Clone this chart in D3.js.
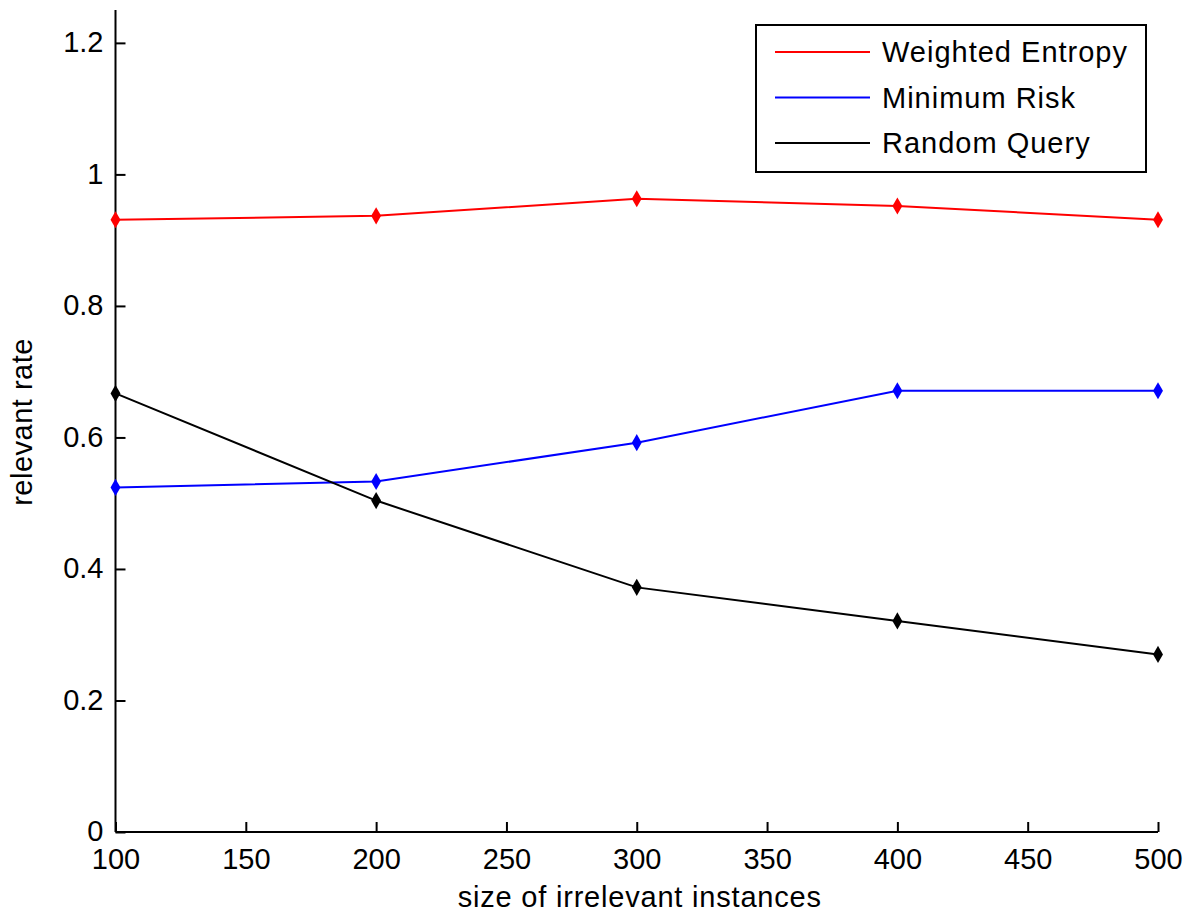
<!DOCTYPE html>
<html>
<head>
<meta charset="utf-8">
<script src="https://cdn.jsdelivr.net/npm/d3@7"></script>
<style>
  body { margin: 0; background: #fff; }
  text { font-family: "Liberation Sans", Arial, sans-serif; fill: #000; }
</style>
</head>
<body>
<div id="chart"></div>
<script>
// values
var sizes = [100, 200, 300, 400, 500];
var weightedEntropy = [0.931, 0.937, 0.963, 0.952, 0.931];
var minimumRisk = [0.524, 0.533, 0.592, 0.671, 0.671];
var randomQuery = [0.667, 0.504, 0.372, 0.321, 0.270];
var seriesNames = ["Weighted Entropy", "Minimum Risk", "Random Query"];
var seriesColors = ["#ff0000", "#0000ff", "#000000"];
var xTicks = [100, 150, 200, 250, 300, 350, 400, 450, 500];
var yTicks = [0, 0.2, 0.4, 0.6, 0.8, 1, 1.2];

var W = 1185, H = 913;
var margin = {top: 10, right: 27, bottom: 81, left: 115.5},
    width = W - margin.left - margin.right,
    height = H - margin.top - margin.bottom;

var x = d3.scaleLinear().domain([100, 500]).range([0, width]);
var y = d3.scaleLinear().domain([0, 1.25]).range([height, 0]);

var svg = d3.select("#chart").append("svg")
    .attr("width", W)
    .attr("height", H)
  .append("g")
    .attr("transform", "translate(" + margin.left + "," + margin.top + ")");

var fontSize = 29;

// axes, ticks pointing inwards like matlab
var xAxis = svg.append("g")
    .attr("transform", "translate(0," + height + ")")
    .call(d3.axisBottom(x).tickValues(xTicks).tickSize(-10).tickPadding(16)
        .tickFormat(d3.format("d")));
var yAxis = svg.append("g")
    .call(d3.axisLeft(y).tickValues(yTicks).tickSize(-10).tickPadding(12)
        .tickFormat(function(d) { return d3.format("")(+d.toFixed(1)); }));

[xAxis, yAxis].forEach(function(a) {
  a.select(".domain").attr("stroke", "#000").attr("stroke-width", 2);
  a.selectAll(".tick line").attr("stroke", "#000").attr("stroke-width", 2);
  a.selectAll(".tick text").attr("font-size", fontSize)
      .attr("font-family", "Liberation Sans, Arial, sans-serif");
});
// no end caps on the axis lines
yAxis.select(".domain").attr("d", "M0," + height + "V0");
xAxis.select(".domain").attr("d", "M0,0H" + width);
yAxis.selectAll(".tick text").attr("dy", "0.3em");

// axis labels
svg.append("text")
    .attr("x", x(300) + 3)
    .attr("y", height + 75)
    .attr("text-anchor", "middle")
    .attr("font-size", fontSize)
    .attr("letter-spacing", 0.8)
    .text("size of irrelevant instances");

svg.append("text")
    .attr("transform", "translate(" + (-84) + "," + (y(0.625) + 1) + ") rotate(-90)")
    .attr("text-anchor", "middle")
    .attr("font-size", fontSize)
    .attr("letter-spacing", 0.5)
    .text("relevant rate");

var series = [weightedEntropy, minimumRisk, randomQuery];

var line = d3.line()
    .x(function(d, i) { return x(sizes[i]); })
    .y(function(d) { return y(d); });

series.forEach(function(s, k) {
  svg.append("path")
      .datum(s)
      .attr("fill", "none")
      .attr("stroke", seriesColors[k])
      .attr("stroke-width", 2)
      .attr("d", line);

  svg.selectAll(null)
      .data(s)
    .enter().append("path")
      .attr("transform", function(d, i) { return "translate(" + x(sizes[i]) + "," + y(d) + ")"; })
      .attr("d", d3.symbol().type(d3.symbolDiamond).size(85))
      .attr("fill", seriesColors[k]);
});

// legend
var legend = svg.append("g")
    .attr("transform", "translate(" + (756 - margin.left) + "," + (25 - margin.top) + ")");

legend.append("rect")
    .attr("width", 390)
    .attr("height", 147)
    .attr("fill", "#fff")
    .attr("stroke", "#000")
    .attr("stroke-width", 2);

seriesNames.forEach(function(name, k) {
  var row = legend.append("g").attr("transform", "translate(0," + (27 + k * 45.5) + ")");
  row.append("line")
      .attr("x1", 19).attr("x2", 114)
      .attr("stroke", seriesColors[k])
      .attr("stroke-width", 2);
  row.append("text")
      .attr("x", 126)
      .attr("dy", "0.36em")
      .attr("font-size", fontSize)
      .attr("letter-spacing", 1)
      .text(name);
});
</script>
</body>
</html>
